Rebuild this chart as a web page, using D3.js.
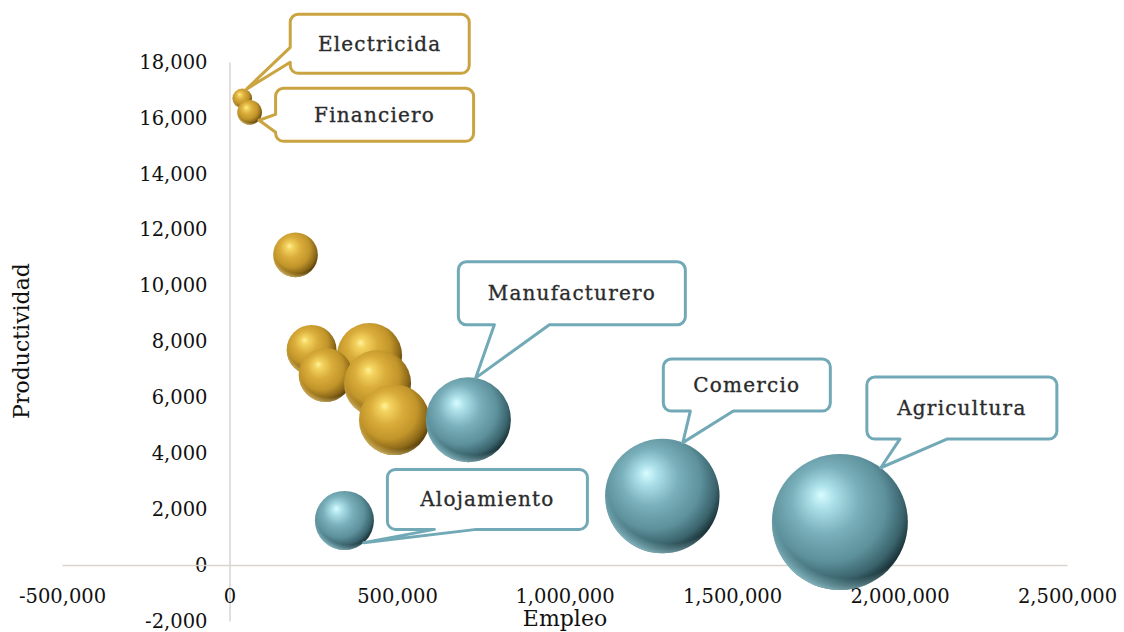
<!DOCTYPE html>
<html>
<head>
<meta charset="utf-8">
<script src="https://cdn.jsdelivr.net/npm/d3@7"></script>
<style>
  html, body { margin: 0; padding: 0; background: #ffffff; }
  svg { display: block; }
  .tick text { font-family: "DejaVu Serif", serif; font-size: 19.5px; fill: #111111; }
  .axis-title { font-family: "DejaVu Serif", serif; font-size: 22px; fill: #111111; }
  .callout-text { font-family: "DejaVu Serif", serif; font-size: 20px; fill: #2b2b2b; letter-spacing: 1.2px;
                  stroke: #2b2b2b; stroke-width: 0.35px; }
</style>
</head>
<body>
<svg id="chart" width="1124" height="632"></svg>
<script>
// Sectores de productividad alta (serie dorada)
const sectoresAlta = ["Electricida", "Financiero", "", "", "", "", "", ""];
const empleoAlta = [38000, 60000, 197000, 245000, 287000, 418000, 442000, 492000];
const productividadAlta = [16700, 16200, 11100, 7700, 6800, 7500, 6500, 5200];

// Sectores de productividad baja (serie azul)
const sectoresBaja = ["Manufacturero", "Alojamiento", "Comercio", "Agricultura"];
const empleoBaja = [713000, 343000, 1292000, 1822000];
const productividadBaja = [5200, 1600, 2470, 1540];

// Marcas de los ejes
const ticksX = [-500000, 0, 500000, 1000000, 1500000, 2000000, 2500000];
const ticksY = [-2000, 0, 2000, 4000, 6000, 8000, 10000, 12000, 14000, 16000, 18000];

// Posición de cada globo de texto respecto a su burbuja
const globos = {
  "Electricida":   { dx: 48,  dy: -84,  w: 179, h: 59, lado: "left",   base: [33, 48], ang: -66 },
  "Financiero":    { dx: 26,  dy: -24,  w: 198, h: 53, lado: "left",   base: [26, 44], ang: 40 },
  "Manufacturero": { dx: -10, dy: -158, w: 227, h: 63, lado: "bottom", base: [36, 91], ang: -80 },
  "Comercio":      { dx: 1,   dy: -137, w: 167, h: 52, lado: "bottom", base: [27, 70], ang: -69 },
  "Agricultura":   { dx: 27,  dy: -145, w: 190, h: 62, lado: "bottom", base: [33, 80], ang: -53 },
  "Alojamiento":   { dx: 43,  dy: -51,  w: 200, h: 60, lado: "bottom", base: [47, 89], ang: 49 }
};

const svg = d3.select("#chart");
const x = d3.scaleLinear().domain([-500000, 2500000]).range([62, 1067]);
const y = d3.scaleLinear().domain([-2000, 18000]).range([621, 62]);
const r = d3.scaleSqrt().domain([0, d3.max(empleoAlta.concat(empleoBaja))]).range([0, 68]);

// Formato con separador de miles y guion simple para negativos
const formato = d3.formatLocale({ decimal: ".", thousands: ",", grouping: [3], currency: ["$", ""], minus: "-" }).format(",");

// Degradados esféricos
const defs = svg.append("defs");
function esfera(id, stops) {
  const g = defs.append("radialGradient").attr("id", id)
    .attr("cx", 0.44).attr("cy", 0.4).attr("r", 0.62).attr("fx", 0.36).attr("fy", 0.3);
  stops.forEach(([o, c]) => g.append("stop").attr("offset", o).attr("stop-color", c));
}
esfera("oro", [[0, "#fff29a"], [0.12, "#f4d35f"], [0.38, "#d9ac3a"], [0.66, "#c2952b"], [0.86, "#8c6818"], [1, "#4d370a"]]);
esfera("azul", [[0, "#d8fcff"], [0.14, "#ade1ea"], [0.4, "#7ab0bb"], [0.68, "#5d919c"], [0.87, "#3a636c"], [1, "#13272c"]]);
function borde(id, color) {
  const g = defs.append("radialGradient").attr("id", id)
    .attr("cx", 0.56).attr("cy", 0.36).attr("r", 0.66);
  g.append("stop").attr("offset", 0).attr("stop-color", color).attr("stop-opacity", 0);
  g.append("stop").attr("offset", 0.84).attr("stop-color", color).attr("stop-opacity", 0);
  g.append("stop").attr("offset", 1).attr("stop-color", color).attr("stop-opacity", 0.75);
}
borde("oroBorde", "#f3d57a");
borde("azulBorde", "#a9e2ec");

// Ejes
const ejeY = svg.append("g").attr("transform", `translate(${x(0)},0)`)
  .call(d3.axisLeft(y).tickValues(ticksY).tickFormat(formato).tickSize(0).tickSizeOuter(0).tickPadding(22));
const ejeX = svg.append("g").attr("transform", `translate(0,${y(0)})`)
  .call(d3.axisBottom(x).tickValues(ticksX).tickFormat(formato).tickSize(0).tickSizeOuter(0).tickPadding(24));
[ejeY, ejeX].forEach(g => g.select(".domain").attr("stroke", "#d9d5ce").attr("stroke-width", 1.5));

svg.append("text").attr("class", "axis-title")
  .attr("transform", "translate(29,341) rotate(-90)").attr("text-anchor", "middle").text("Productividad");
svg.append("text").attr("class", "axis-title")
  .attr("x", 565).attr("y", 626).attr("text-anchor", "middle").text("Empleo");

// Burbujas
function serie(nombres, empleo, prod, grad) {
  return nombres.map((n, i) => ({ nombre: n, empleo: empleo[i], prod: prod[i], grad }))
    .sort((a, b) => b.prod - a.prod);
}
const datos = serie(sectoresAlta, empleoAlta, productividadAlta, "oro")
  .concat(serie(sectoresBaja, empleoBaja, productividadBaja, "azul"));

const burbujas = svg.append("g").selectAll("g").data(datos).join("g")
  .attr("transform", d => `translate(${x(d.empleo)},${y(d.prod)})`);
burbujas.append("circle").attr("r", d => r(d.empleo)).attr("fill", d => `url(#${d.grad})`);
burbujas.append("circle").attr("r", d => r(d.empleo)).attr("fill", d => `url(#${d.grad}Borde)`);

// Globos de texto con cola hacia la burbuja
function rutaGlobo(b, tip) {
  const rr = 8, { x0, y0, w, h } = b, x1 = x0 + w, y1 = y0 + h;
  const p = d3.path();
  p.moveTo(x0 + rr, y0);
  p.lineTo(x1 - rr, y0);
  p.arcTo(x1, y0, x1, y0 + rr, rr);
  p.lineTo(x1, y1 - rr);
  p.arcTo(x1, y1, x1 - rr, y1, rr);
  if (b.lado === "bottom") {
    p.lineTo(x0 + b.base[1], y1);
    p.lineTo(tip[0], tip[1]);
    p.lineTo(x0 + b.base[0], y1);
  }
  p.lineTo(x0 + rr, y1);
  p.arcTo(x0, y1, x0, y1 - rr, rr);
  if (b.lado === "left") {
    p.lineTo(x0, y0 + b.base[1]);
    p.lineTo(tip[0], tip[1]);
    p.lineTo(x0, y0 + b.base[0]);
  }
  p.lineTo(x0, y0 + rr);
  p.arcTo(x0, y0, x0 + rr, y0, rr);
  p.closePath();
  return p.toString();
}

const etiquetas = datos.filter(d => globos[d.nombre]);
const capa = svg.append("g");
etiquetas.forEach(d => {
  const g = globos[d.nombre];
  const cx = x(d.empleo), cy = y(d.prod), rad = r(d.empleo);
  const a = g.ang * Math.PI / 180;
  const tip = [cx + rad * Math.cos(a), cy + rad * Math.sin(a)];
  const caja = { x0: cx + g.dx, y0: cy + g.dy, w: g.w, h: g.h, lado: g.lado, base: g.base };
  const color = d.grad === "oro" ? "#c9a440" : "#72a9b6";
  capa.append("path").attr("d", rutaGlobo(caja, tip))
    .attr("fill", "#ffffff").attr("stroke", color).attr("stroke-width", 3).attr("stroke-linejoin", "round");
  capa.append("text").attr("class", "callout-text")
    .attr("x", caja.x0 + caja.w / 2).attr("y", caja.y0 + caja.h / 2)
    .attr("text-anchor", "middle").attr("dominant-baseline", "central")
    .text(d.nombre);
});
</script>
</body>
</html>
